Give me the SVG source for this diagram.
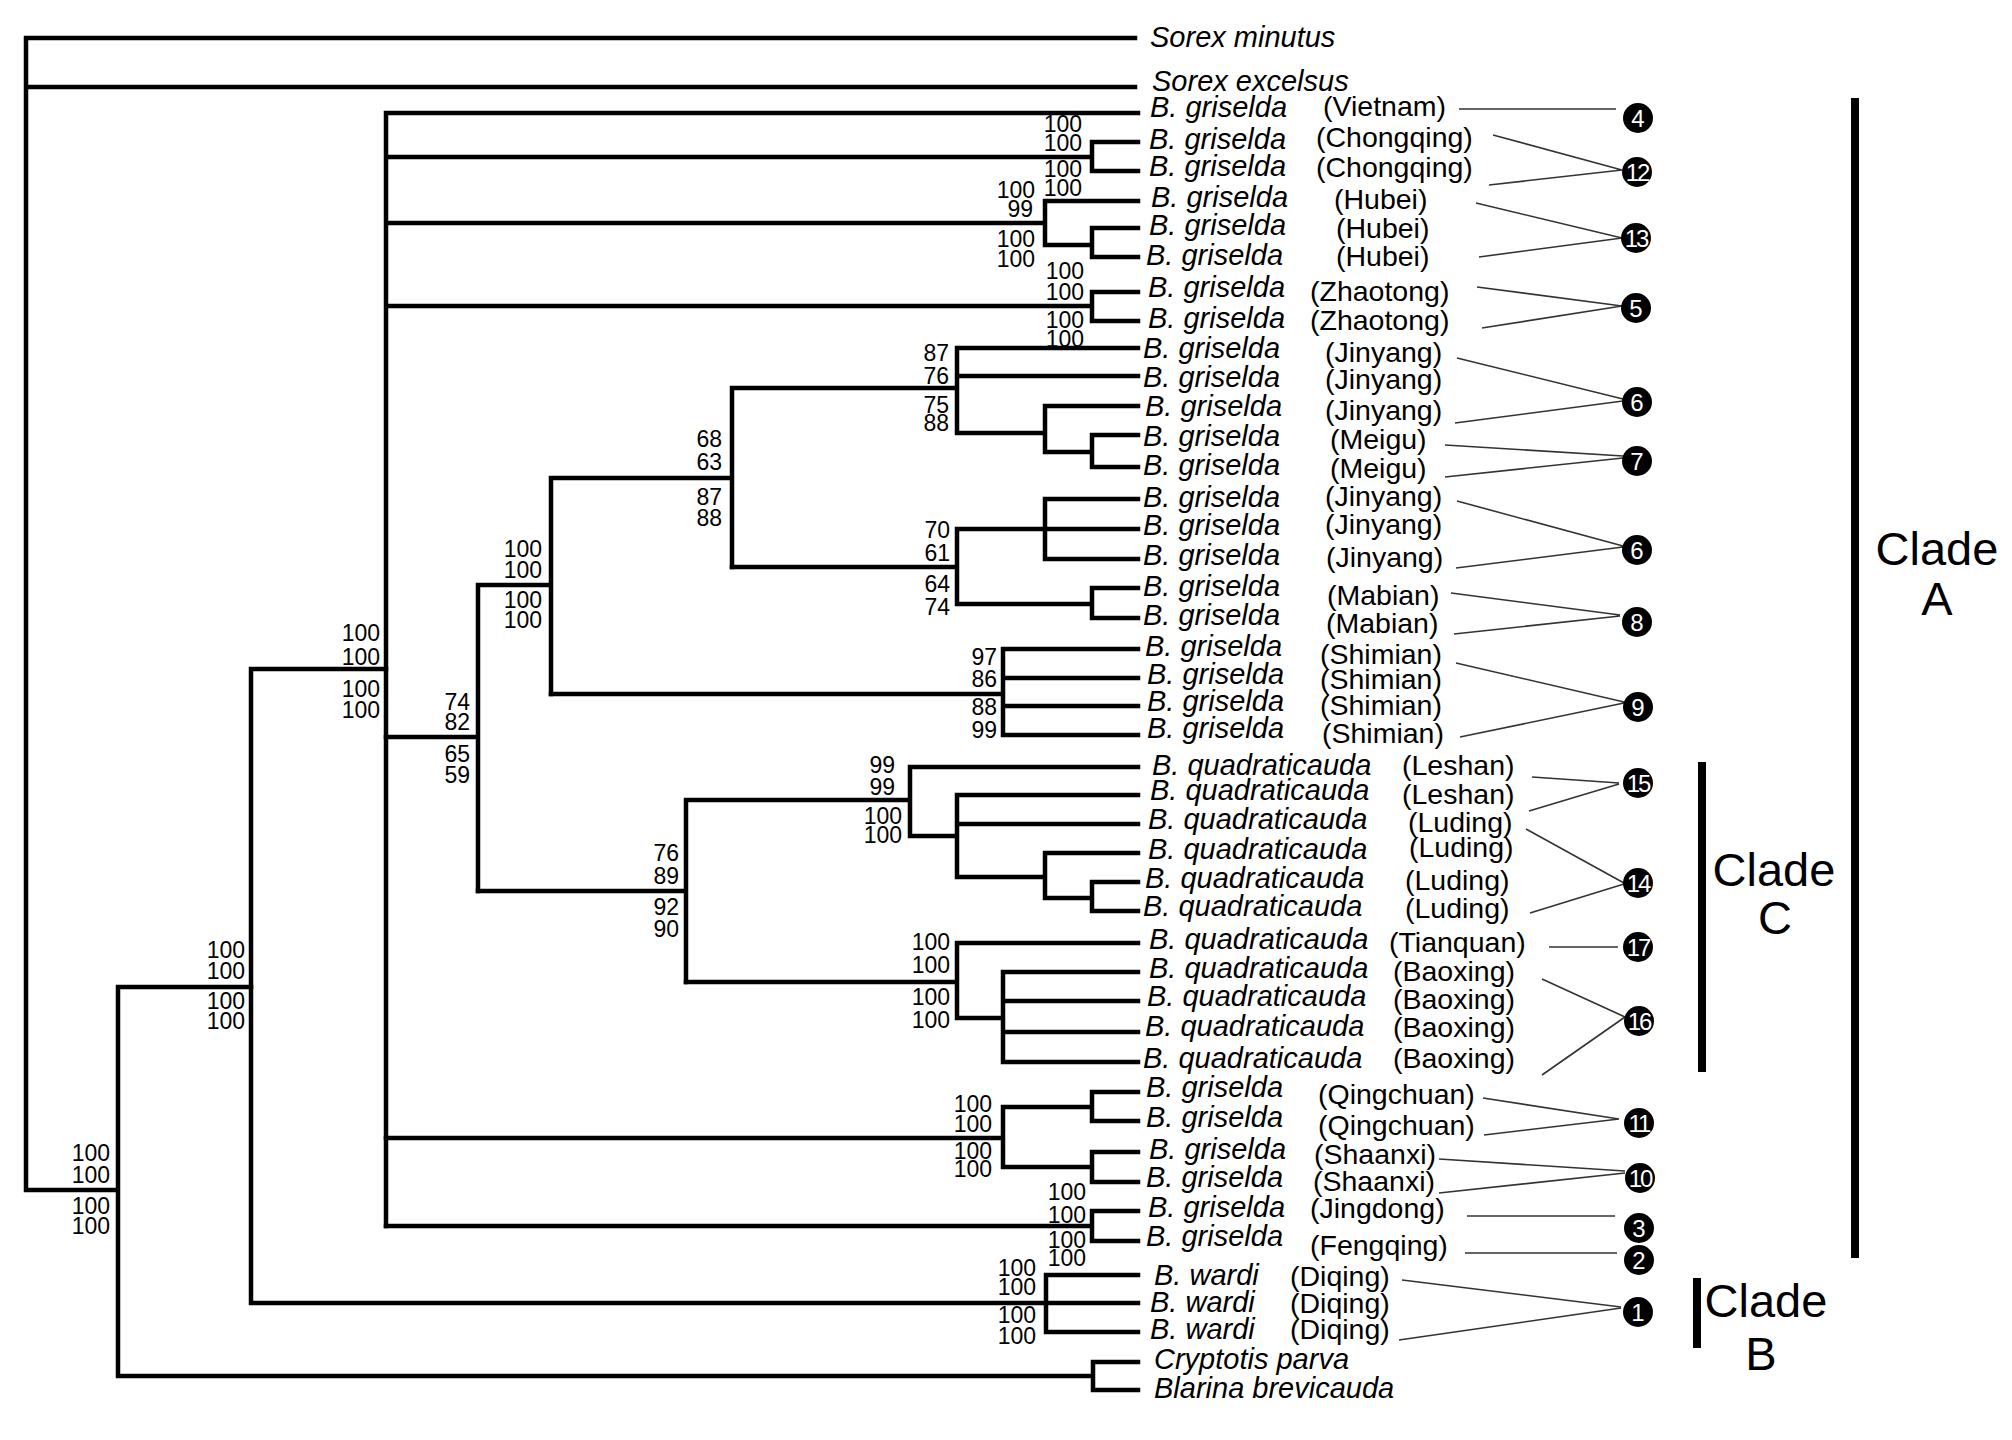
<svg xmlns="http://www.w3.org/2000/svg" width="2012" height="1440" viewBox="0 0 2012 1440">
<style>
.br{stroke:#000;stroke-width:4.5;fill:none;stroke-linecap:square}
.cn{stroke:#333;stroke-width:1.6;fill:none}
.bar{fill:#000}
.sp{font-family:"Liberation Sans",Arial,sans-serif;font-style:italic;font-size:29px;fill:#000}
.loc{font-family:"Liberation Sans",Arial,sans-serif;font-size:28.5px;fill:#000}
.bs{font-family:"Liberation Sans",Arial,sans-serif;font-size:23px;fill:#000;text-anchor:end}
.dot{fill:#000}
.nt{font-family:"Liberation Sans",Arial,sans-serif;font-size:24px;fill:#fff;text-anchor:middle}
.cl{font-family:"Liberation Sans",Arial,sans-serif;font-size:47px;fill:#000;text-anchor:middle}
</style>
<rect width="2012" height="1440" fill="#fff"/>
<g id="connectors">
<path class="br" d="M26,38H1135 M26,87H1135 M26,38V1190 M26,1190H118 M118,987V1376 M118,987H251 M118,1376H1093 M1093,1362V1390 M1093,1362H1138 M1093,1390H1138"/>
<path class="br" d="M251,669V1303 M251,669H386 M251,1303H1138 M1046,1275V1332 M1046,1275H1138 M1046,1332H1138"/>
<path class="br" d="M386,113V1226 M386,113H1138 M386,157H1092 M1092,142V171 M1092,142H1138 M1092,171H1138 M386,223H1045 M1045,201V245 M1045,201H1138 M1045,245H1092 M1092,228V257 M1092,228H1138 M1092,257H1138 M386,306H1092 M1092,292V321 M1092,292H1138 M1092,321H1138"/>
<path class="br" d="M386,737H478 M478,585V891 M478,585H551 M551,478V694 M551,478H732 M732,388V567 M732,388H957 M957,348V433 M957,348H1138 M957,376H1138 M957,433H1045 M1045,406V452 M1045,406H1138 M1045,452H1092 M1092,435V467 M1092,435H1138 M1092,467H1138"/>
<path class="br" d="M732,567H957 M957,529V604 M957,529H1138 M1045,499V559 M1045,499H1138 M1045,559H1138 M957,604H1092 M1092,588V618 M1092,588H1138 M1092,618H1138 M551,694H1003 M1003,649V735 M1003,649H1138 M1003,678H1138 M1003,706H1138 M1003,735H1138"/>
<path class="br" d="M478,891H686 M686,800V982 M686,800H910 M910,767V836 M910,767H1138 M910,836H957 M957,795V877 M957,795H1138 M957,824H1138 M957,877H1045 M1045,853V898 M1045,853H1138 M1045,898H1092 M1092,882V911 M1092,882H1138 M1092,911H1138"/>
<path class="br" d="M686,982H957 M957,943V1018 M957,943H1138 M957,1018H1003 M1003,972V1062 M1003,972H1138 M1003,1001H1138 M1003,1032H1138 M1003,1062H1138"/>
<path class="br" d="M386,1138H1003 M1003,1107V1167 M1003,1107H1092 M1092,1092V1121 M1092,1092H1138 M1092,1121H1138 M1003,1167H1092 M1092,1152V1182 M1092,1152H1138 M1092,1182H1138 M386,1226H1092 M1092,1211V1241 M1092,1211H1138 M1092,1241H1138"/>
<path class="cn" d="M1459,109L1616,109 M1493,135L1622,170 M1489,185L1622,170 M1476,203L1622,238 M1479,257L1622,238 M1477,287L1622,306 M1482,328L1622,306 M1457,358L1623,399 M1455,423L1623,401 M1445,445L1623,456 M1445,477L1623,458 M1457,501L1623,546 M1456,568L1623,547 M1451,593L1620,615 M1454,634L1620,616 M1456,663L1624,702 M1460,737L1624,703 M1532,777L1619,783 M1529,811L1619,784 M1526,829L1624,883 M1530,913L1624,884 M1549,947L1618,947 M1542,979L1625,1017 M1542,1075L1625,1017 M1483,1098L1619,1119 M1484,1135L1619,1119 M1439,1159L1625,1171 M1439,1193L1625,1173 M1467,1216L1615,1216 M1465,1253L1617,1253 M1402,1280L1621,1307 M1399,1340L1621,1308"/>
</g>
<g id="support">
<text class="bs" x="110" y="1161">100</text><text class="bs" x="110" y="1183">100</text><text class="bs" x="110" y="1214">100</text><text class="bs" x="110" y="1234">100</text>
<text class="bs" x="245" y="958">100</text><text class="bs" x="245" y="979">100</text><text class="bs" x="245" y="1009">100</text><text class="bs" x="245" y="1029">100</text>
<text class="bs" x="380" y="641">100</text><text class="bs" x="380" y="665">100</text><text class="bs" x="380" y="697">100</text><text class="bs" x="380" y="718">100</text>
<text class="bs" x="470" y="710">74</text><text class="bs" x="470" y="730">82</text><text class="bs" x="470" y="762">65</text><text class="bs" x="470" y="783">59</text>
<text class="bs" x="542" y="557">100</text><text class="bs" x="542" y="578">100</text><text class="bs" x="542" y="608">100</text><text class="bs" x="542" y="628">100</text>
<text class="bs" x="722" y="447">68</text><text class="bs" x="722" y="470">63</text><text class="bs" x="722" y="505">87</text><text class="bs" x="722" y="526">88</text>
<text class="bs" x="949" y="361">87</text><text class="bs" x="949" y="384">76</text><text class="bs" x="949" y="413">75</text><text class="bs" x="949" y="431">88</text>
<text class="bs" x="950" y="538">70</text><text class="bs" x="950" y="561">61</text><text class="bs" x="950" y="592">64</text><text class="bs" x="950" y="615">74</text>
<text class="bs" x="997" y="665">97</text><text class="bs" x="997" y="687">86</text><text class="bs" x="997" y="715">88</text><text class="bs" x="997" y="738">99</text>
<text class="bs" x="679" y="861">76</text><text class="bs" x="679" y="884">89</text><text class="bs" x="679" y="915">92</text><text class="bs" x="679" y="937">90</text>
<text class="bs" x="895" y="773">99</text><text class="bs" x="895" y="795">99</text><text class="bs" x="902" y="824">100</text><text class="bs" x="902" y="843">100</text>
<text class="bs" x="950" y="950">100</text><text class="bs" x="950" y="973">100</text><text class="bs" x="950" y="1005">100</text><text class="bs" x="950" y="1028">100</text>
<text class="bs" x="992" y="1112">100</text><text class="bs" x="992" y="1132">100</text><text class="bs" x="992" y="1159">100</text><text class="bs" x="992" y="1177">100</text>
<text class="bs" x="1086" y="1200">100</text><text class="bs" x="1086" y="1223">100</text><text class="bs" x="1086" y="1248">100</text><text class="bs" x="1086" y="1266">100</text>
<text class="bs" x="1036" y="1276">100</text><text class="bs" x="1036" y="1295">100</text><text class="bs" x="1036" y="1323">100</text><text class="bs" x="1036" y="1344">100</text>
<text class="bs" x="1082" y="132">100</text><text class="bs" x="1082" y="151">100</text><text class="bs" x="1082" y="177">100</text><text class="bs" x="1082" y="196">100</text>
<text class="bs" x="1035" y="198">100</text><text class="bs" x="1033" y="217">99</text><text class="bs" x="1035" y="247">100</text><text class="bs" x="1035" y="267">100</text>
<text class="bs" x="1084" y="279">100</text><text class="bs" x="1084" y="300">100</text><text class="bs" x="1084" y="328">100</text><text class="bs" x="1084" y="347">100</text>
</g>
<g id="taxa">
<g id="t-sorex-minutus"><text class="sp" x="1150" y="47">Sorex minutus</text></g>
<g id="t-sorex-excelsus"><text class="sp" x="1152" y="91">Sorex excelsus</text></g>
<g id="t01"><text class="sp" x="1150" y="117">B. griselda</text><text class="loc" x="1323" y="116">(Vietnam)</text></g>
<g id="t02"><text class="sp" x="1149" y="149">B. griselda</text><text class="loc" x="1316" y="147">(Chongqing)</text></g>
<g id="t03"><text class="sp" x="1149" y="176">B. griselda</text><text class="loc" x="1316" y="177">(Chongqing)</text></g>
<g id="t04"><text class="sp" x="1151" y="207">B. griselda</text><text class="loc" x="1334" y="209">(Hubei)</text></g>
<g id="t05"><text class="sp" x="1149" y="235">B. griselda</text><text class="loc" x="1336" y="238">(Hubei)</text></g>
<g id="t06"><text class="sp" x="1146" y="265">B. griselda</text><text class="loc" x="1336" y="266">(Hubei)</text></g>
<g id="t07"><text class="sp" x="1148" y="297">B. griselda</text><text class="loc" x="1310" y="301">(Zhaotong)</text></g>
<g id="t08"><text class="sp" x="1148" y="328">B. griselda</text><text class="loc" x="1310" y="330">(Zhaotong)</text></g>
<g id="t09"><text class="sp" x="1143" y="358">B. griselda</text><text class="loc" x="1325" y="362">(Jinyang)</text></g>
<g id="t10"><text class="sp" x="1143" y="387">B. griselda</text><text class="loc" x="1325" y="389">(Jinyang)</text></g>
<g id="t11"><text class="sp" x="1145" y="416">B. griselda</text><text class="loc" x="1325" y="420">(Jinyang)</text></g>
<g id="t12"><text class="sp" x="1143" y="446">B. griselda</text><text class="loc" x="1330" y="449">(Meigu)</text></g>
<g id="t13"><text class="sp" x="1143" y="475">B. griselda</text><text class="loc" x="1330" y="478">(Meigu)</text></g>
<g id="t14"><text class="sp" x="1143" y="507">B. griselda</text><text class="loc" x="1325" y="506">(Jinyang)</text></g>
<g id="t15"><text class="sp" x="1143" y="535">B. griselda</text><text class="loc" x="1325" y="534">(Jinyang)</text></g>
<g id="t16"><text class="sp" x="1143" y="565">B. griselda</text><text class="loc" x="1326" y="567">(Jinyang)</text></g>
<g id="t17"><text class="sp" x="1143" y="596">B. griselda</text><text class="loc" x="1327" y="605">(Mabian)</text></g>
<g id="t18"><text class="sp" x="1143" y="625">B. griselda</text><text class="loc" x="1326" y="633">(Mabian)</text></g>
<g id="t19"><text class="sp" x="1145" y="656">B. griselda</text><text class="loc" x="1320" y="664">(Shimian)</text></g>
<g id="t20"><text class="sp" x="1147" y="684">B. griselda</text><text class="loc" x="1320" y="689">(Shimian)</text></g>
<g id="t21"><text class="sp" x="1147" y="711">B. griselda</text><text class="loc" x="1320" y="715">(Shimian)</text></g>
<g id="t22"><text class="sp" x="1147" y="738">B. griselda</text><text class="loc" x="1322" y="743">(Shimian)</text></g>
<g id="t23"><text class="sp" x="1152" y="775">B. quadraticauda</text><text class="loc" x="1402" y="775">(Leshan)</text></g>
<g id="t24"><text class="sp" x="1150" y="800">B. quadraticauda</text><text class="loc" x="1402" y="804">(Leshan)</text></g>
<g id="t25"><text class="sp" x="1148" y="829">B. quadraticauda</text><text class="loc" x="1408" y="832">(Luding)</text></g>
<g id="t26"><text class="sp" x="1148" y="859">B. quadraticauda</text><text class="loc" x="1409" y="857">(Luding)</text></g>
<g id="t27"><text class="sp" x="1145" y="888">B. quadraticauda</text><text class="loc" x="1405" y="890">(Luding)</text></g>
<g id="t28"><text class="sp" x="1143" y="916">B. quadraticauda</text><text class="loc" x="1405" y="918">(Luding)</text></g>
<g id="t29"><text class="sp" x="1149" y="949">B. quadraticauda</text><text class="loc" x="1389" y="952">(Tianquan)</text></g>
<g id="t30"><text class="sp" x="1149" y="978">B. quadraticauda</text><text class="loc" x="1393" y="981">(Baoxing)</text></g>
<g id="t31"><text class="sp" x="1147" y="1006">B. quadraticauda</text><text class="loc" x="1393" y="1009">(Baoxing)</text></g>
<g id="t32"><text class="sp" x="1145" y="1036">B. quadraticauda</text><text class="loc" x="1393" y="1037">(Baoxing)</text></g>
<g id="t33"><text class="sp" x="1143" y="1068">B. quadraticauda</text><text class="loc" x="1393" y="1068">(Baoxing)</text></g>
<g id="t34"><text class="sp" x="1146" y="1097">B. griselda</text><text class="loc" x="1318" y="1104">(Qingchuan)</text></g>
<g id="t35"><text class="sp" x="1146" y="1127">B. griselda</text><text class="loc" x="1318" y="1135">(Qingchuan)</text></g>
<g id="t36"><text class="sp" x="1149" y="1159">B. griselda</text><text class="loc" x="1314" y="1164">(Shaanxi)</text></g>
<g id="t37"><text class="sp" x="1146" y="1187">B. griselda</text><text class="loc" x="1313" y="1191">(Shaanxi)</text></g>
<g id="t38"><text class="sp" x="1148" y="1217">B. griselda</text><text class="loc" x="1310" y="1218">(Jingdong)</text></g>
<g id="t39"><text class="sp" x="1146" y="1246">B. griselda</text><text class="loc" x="1310" y="1255">(Fengqing)</text></g>
<g id="t40"><text class="sp" x="1154" y="1285">B. wardi</text><text class="loc" x="1290" y="1286">(Diqing)</text></g>
<g id="t41"><text class="sp" x="1150" y="1312">B. wardi</text><text class="loc" x="1290" y="1313">(Diqing)</text></g>
<g id="t42"><text class="sp" x="1150" y="1339">B. wardi</text><text class="loc" x="1290" y="1339">(Diqing)</text></g>
<g id="t-cryptotis"><text class="sp" x="1154" y="1369">Cryptotis parva</text></g>
<g id="t-blarina"><text class="sp" x="1154" y="1398">Blarina brevicauda</text></g>
</g>
<g id="localities">
<g id="n4"><circle class="dot" cx="1638" cy="118" r="15"/><text class="nt" x="1638" y="127">4</text></g>
<g id="n12"><circle class="dot" cx="1637" cy="172" r="15"/><text class="nt" x="1637" y="181" letter-spacing="-2">12</text></g>
<g id="n13"><circle class="dot" cx="1636" cy="238" r="15"/><text class="nt" x="1636" y="247" letter-spacing="-2">13</text></g>
<g id="n5"><circle class="dot" cx="1636" cy="308" r="15"/><text class="nt" x="1636" y="317">5</text></g>
<g id="n6a"><circle class="dot" cx="1637" cy="402" r="15"/><text class="nt" x="1637" y="411">6</text></g>
<g id="n7"><circle class="dot" cx="1637" cy="461" r="15"/><text class="nt" x="1637" y="470">7</text></g>
<g id="n6b"><circle class="dot" cx="1637" cy="550" r="15"/><text class="nt" x="1637" y="559">6</text></g>
<g id="n8"><circle class="dot" cx="1637" cy="622" r="15"/><text class="nt" x="1637" y="631">8</text></g>
<g id="n9"><circle class="dot" cx="1638" cy="707" r="15"/><text class="nt" x="1638" y="716">9</text></g>
<g id="n15"><circle class="dot" cx="1638" cy="783" r="15"/><text class="nt" x="1638" y="792" letter-spacing="-2">15</text></g>
<g id="n14"><circle class="dot" cx="1638" cy="883" r="15"/><text class="nt" x="1638" y="892" letter-spacing="-2">14</text></g>
<g id="n17"><circle class="dot" cx="1638" cy="947" r="15"/><text class="nt" x="1638" y="956" letter-spacing="-2">17</text></g>
<g id="n16"><circle class="dot" cx="1639" cy="1021" r="15"/><text class="nt" x="1639" y="1030" letter-spacing="-2">16</text></g>
<g id="n11"><circle class="dot" cx="1639" cy="1123" r="15"/><text class="nt" x="1639" y="1132" letter-spacing="-2">11</text></g>
<g id="n10"><circle class="dot" cx="1640" cy="1178" r="15"/><text class="nt" x="1640" y="1187" letter-spacing="-2">10</text></g>
<g id="n3"><circle class="dot" cx="1639" cy="1228" r="15"/><text class="nt" x="1639" y="1237">3</text></g>
<g id="n2"><circle class="dot" cx="1639" cy="1260" r="15"/><text class="nt" x="1639" y="1269">2</text></g>
<g id="n1"><circle class="dot" cx="1638" cy="1312" r="15"/><text class="nt" x="1638" y="1321">1</text></g>
</g>
<g id="clades">
<g id="cladeA"><rect class="bar" x="1851" y="98" width="8" height="1160"/><text class="cl" x="1937" y="565">Clade</text><text class="cl" x="1937" y="615">A</text></g>
<g id="cladeC"><rect class="bar" x="1698" y="762" width="8" height="310"/><text class="cl" x="1774" y="886">Clade</text><text class="cl" x="1775" y="934">C</text></g>
<g id="cladeB"><rect class="bar" x="1693" y="1278" width="8" height="70"/><text class="cl" x="1766" y="1317">Clade</text><text class="cl" x="1761" y="1370">B</text></g>
</g>
</svg>
